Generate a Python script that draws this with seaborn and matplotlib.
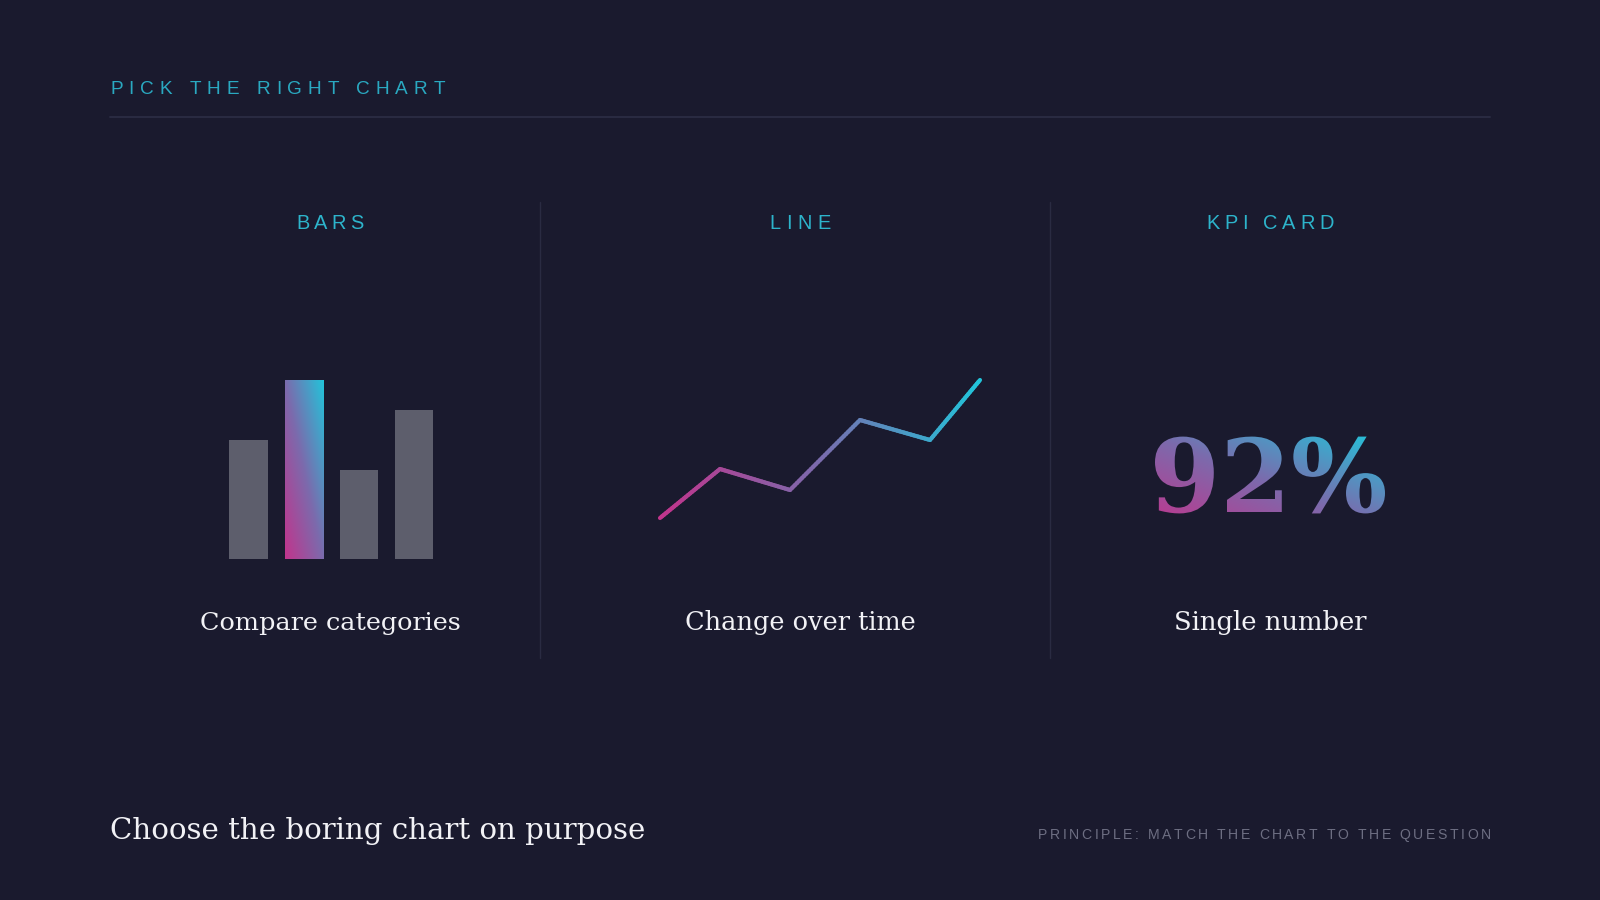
import numpy as np
import matplotlib
matplotlib.use("Agg")
import matplotlib.pyplot as plt
import seaborn as sns
from matplotlib.colors import LinearSegmentedColormap
from matplotlib.textpath import TextPath
from matplotlib.patches import PathPatch
from matplotlib.font_manager import FontProperties
from matplotlib.collections import LineCollection
from matplotlib.transforms import Affine2D

# ---------------- data ----------------
bar_categories = ["A", "B", "C", "D"]
bar_values = [40, 60, 30, 50]
highlight_index = 1
line_t = [0, 60, 130, 200, 270, 320]
line_values = [42, 91, 70, 140, 120, 180]
kpi_text = "92%"
header_text = "PICK THE RIGHT CHART"
panel_titles = ["BARS", "LINE", "KPI CARD"]
panel_captions = ["Compare categories", "Change over time", "Single number"]
footer_title = "Choose the boring chart on purpose"
footer_note = "PRINCIPLE: MATCH THE CHART TO THE QUESTION"

# ---------------- style ----------------
BG = "#1a1a2e"
CYAN = "#2db4cb"
HEAD = "#2aa9c1"
GRAY_BAR = "#5d5e6c"
RULE = "#2a2b42"
WHITE = "#f2f2f6"
NOTE = "#6d6e82"
W, H = 1600, 900

sns.set_theme(style="dark", rc={"axes.facecolor": "none", "figure.facecolor": BG,
                                "patch.edgecolor": "none"})
plt.rcParams["font.family"] = ["Liberation Sans", "DejaVu Sans"]

grad = LinearSegmentedColormap.from_list("g", ["#c2348c", "#7b6bad", "#22c4da"])

fig = plt.figure(figsize=(16, 9), dpi=100, facecolor=BG)
renderer = fig.canvas.get_renderer()

# overlay axes in pixel coordinates (y downward)
ov = fig.add_axes([0, 0, 1, 1])
ov.set_xlim(0, W)
ov.set_ylim(H, 0)
ov.axis("off")
ov.set_zorder(0)


def adv(ch, fp):
    w1 = renderer.get_text_width_height_descent("H" + ch + "H", fp, ismath=False)[0]
    w0 = renderer.get_text_width_height_descent("HH", fp, ismath=False)[0]
    return w1 - w0


def tracked(x, y, s, size_px, color, target_w, ha="left", family="Liberation Sans"):
    fp = FontProperties(family=family, size=size_px * 0.72)
    widths = [adv(ch, fp) for ch in s]
    track = (target_w - sum(widths)) / (len(s) - 1)
    total = target_w
    if ha == "center":
        x0 = x - total / 2
    elif ha == "right":
        x0 = x - total
    else:
        x0 = x
    for ch, w in zip(s, widths):
        ov.text(x0, y, ch, fontproperties=fp, color=color, ha="left", va="baseline")
        x0 += w + track


def serif_fit(x, y, s, target_w, color, ha="center", family="DejaVu Serif"):
    fp = FontProperties(family=family, size=20)
    w = renderer.get_text_width_height_descent(s, fp, ismath=False)[0]
    size = 20 * target_w / w
    ov.text(x, y, s, family=family, fontsize=size, color=color, ha=ha, va="baseline")


def gradient_img(ax, extent, clip, n=256):
    u = np.linspace(0, 1, n)
    v = np.linspace(0, 1, n)
    t = (u[None, :] + v[:, None]) / 2.0
    im = ax.imshow(t, cmap=grad, vmin=0, vmax=1, origin="lower", extent=extent,
                   aspect="auto", interpolation="bilinear", zorder=3)
    im.set_clip_path(clip)
    return im


# header + rule
tracked(110, 94, header_text, 19, HEAD, 335)
ov.plot([110, 1490], [117, 117], color=RULE, lw=1.4)

# dividers
for xd in (540, 1050):
    ov.plot([xd, xd], [202, 658], color=RULE, lw=1.0)

# panel titles and captions
centers = [330, 800, 1270]
title_w = [67, 61, 128]
cap_w = [260, 231, 193]
for cx, t, tw in zip(centers, panel_titles, title_w):
    tracked(cx, 229, t, 20, CYAN, tw, ha="center")
for cx, c, cw in zip(centers, panel_captions, cap_w):
    serif_fit(cx, 630, c, cw, WHITE)

# footer
serif_fit(110, 839, footer_title, 533, WHITE, ha="left")
tracked(1491, 839, footer_note, 14, NOTE, 453, ha="right")

# ---------------- bars ----------------
spacing = 55.1
c0 = 248.5
left_px = c0 - spacing / 2
bx = fig.add_axes([left_px / W, (H - 559) / H, 4 * spacing / W, 179 / H])
sns.barplot(x=bar_categories, y=bar_values, ax=bx, color=GRAY_BAR, width=0.69,
            saturation=1, errorbar=None, edgecolor="none", linewidth=0)
bx.set_xlim(-0.5, 3.5)
bx.set_ylim(0, max(bar_values))
bx.axis("off")
hp = bx.patches[highlight_index]
hp.set_facecolor((0, 0, 0, 0))
ext = (hp.get_x(), hp.get_x() + hp.get_width(), 0, hp.get_height())
gradient_img(bx, ext, hp)
bx.set_xlim(-0.5, 3.5)
bx.set_ylim(0, max(bar_values))

# ---------------- line ----------------
lx = fig.add_axes([660 / W, (H - 560) / H, 320 / W, 180 / H])
sns.lineplot(x=line_t, y=line_values, ax=lx, color="#7b6bad", lw=3)
lx.set_xlim(min(line_t), max(line_t))
lx.set_ylim(0, 180)
lx.axis("off")
base_line = lx.get_lines()[0]
base_line.set_clip_on(False)
base_line.set_alpha(0)
xs, ys = base_line.get_xdata(), base_line.get_ydata()
segs, cols = [], []
span = max(line_t) - min(line_t)
for i in range(len(xs) - 1):
    n = 30
    for k in range(n):
        a, b = k / n, (k + 1) / n
        p0 = (xs[i] + (xs[i + 1] - xs[i]) * a, ys[i] + (ys[i + 1] - ys[i]) * a)
        p1 = (xs[i] + (xs[i + 1] - xs[i]) * b, ys[i] + (ys[i + 1] - ys[i]) * b)
        segs.append([p0, p1])
        cols.append(grad(((p0[0] + p1[0]) / 2 - min(line_t)) / span))
lc = LineCollection(segs, colors=cols, linewidths=3, capstyle="round", clip_on=False, zorder=3)
lx.add_collection(lc)

# ---------------- KPI ----------------
fp_kpi = FontProperties(family="DejaVu Serif", weight="bold")
tp = TextPath((0, 0), kpi_text, size=100, prop=fp_kpi)
e = tp.get_extents()
target_w = 230
s = target_w / e.width
x_left, baseline = 1155, 512
tr = Affine2D().translate(-e.x0, 0).scale(s, -s).translate(x_left, baseline)
kpath = tr.transform_path(tp)
kpatch = PathPatch(kpath, facecolor=(0, 0, 0, 0), edgecolor="none", transform=ov.transData)
ov.add_patch(kpatch)
top_px = baseline - s * e.y1
bot_px = baseline - s * e.y0
gradient_img(ov, (x_left, x_left + target_w, bot_px + 16, top_px), kpatch)
ov.set_xlim(0, W)
ov.set_ylim(H, 0)

fig.savefig("out.png", dpi=100, facecolor=BG)
